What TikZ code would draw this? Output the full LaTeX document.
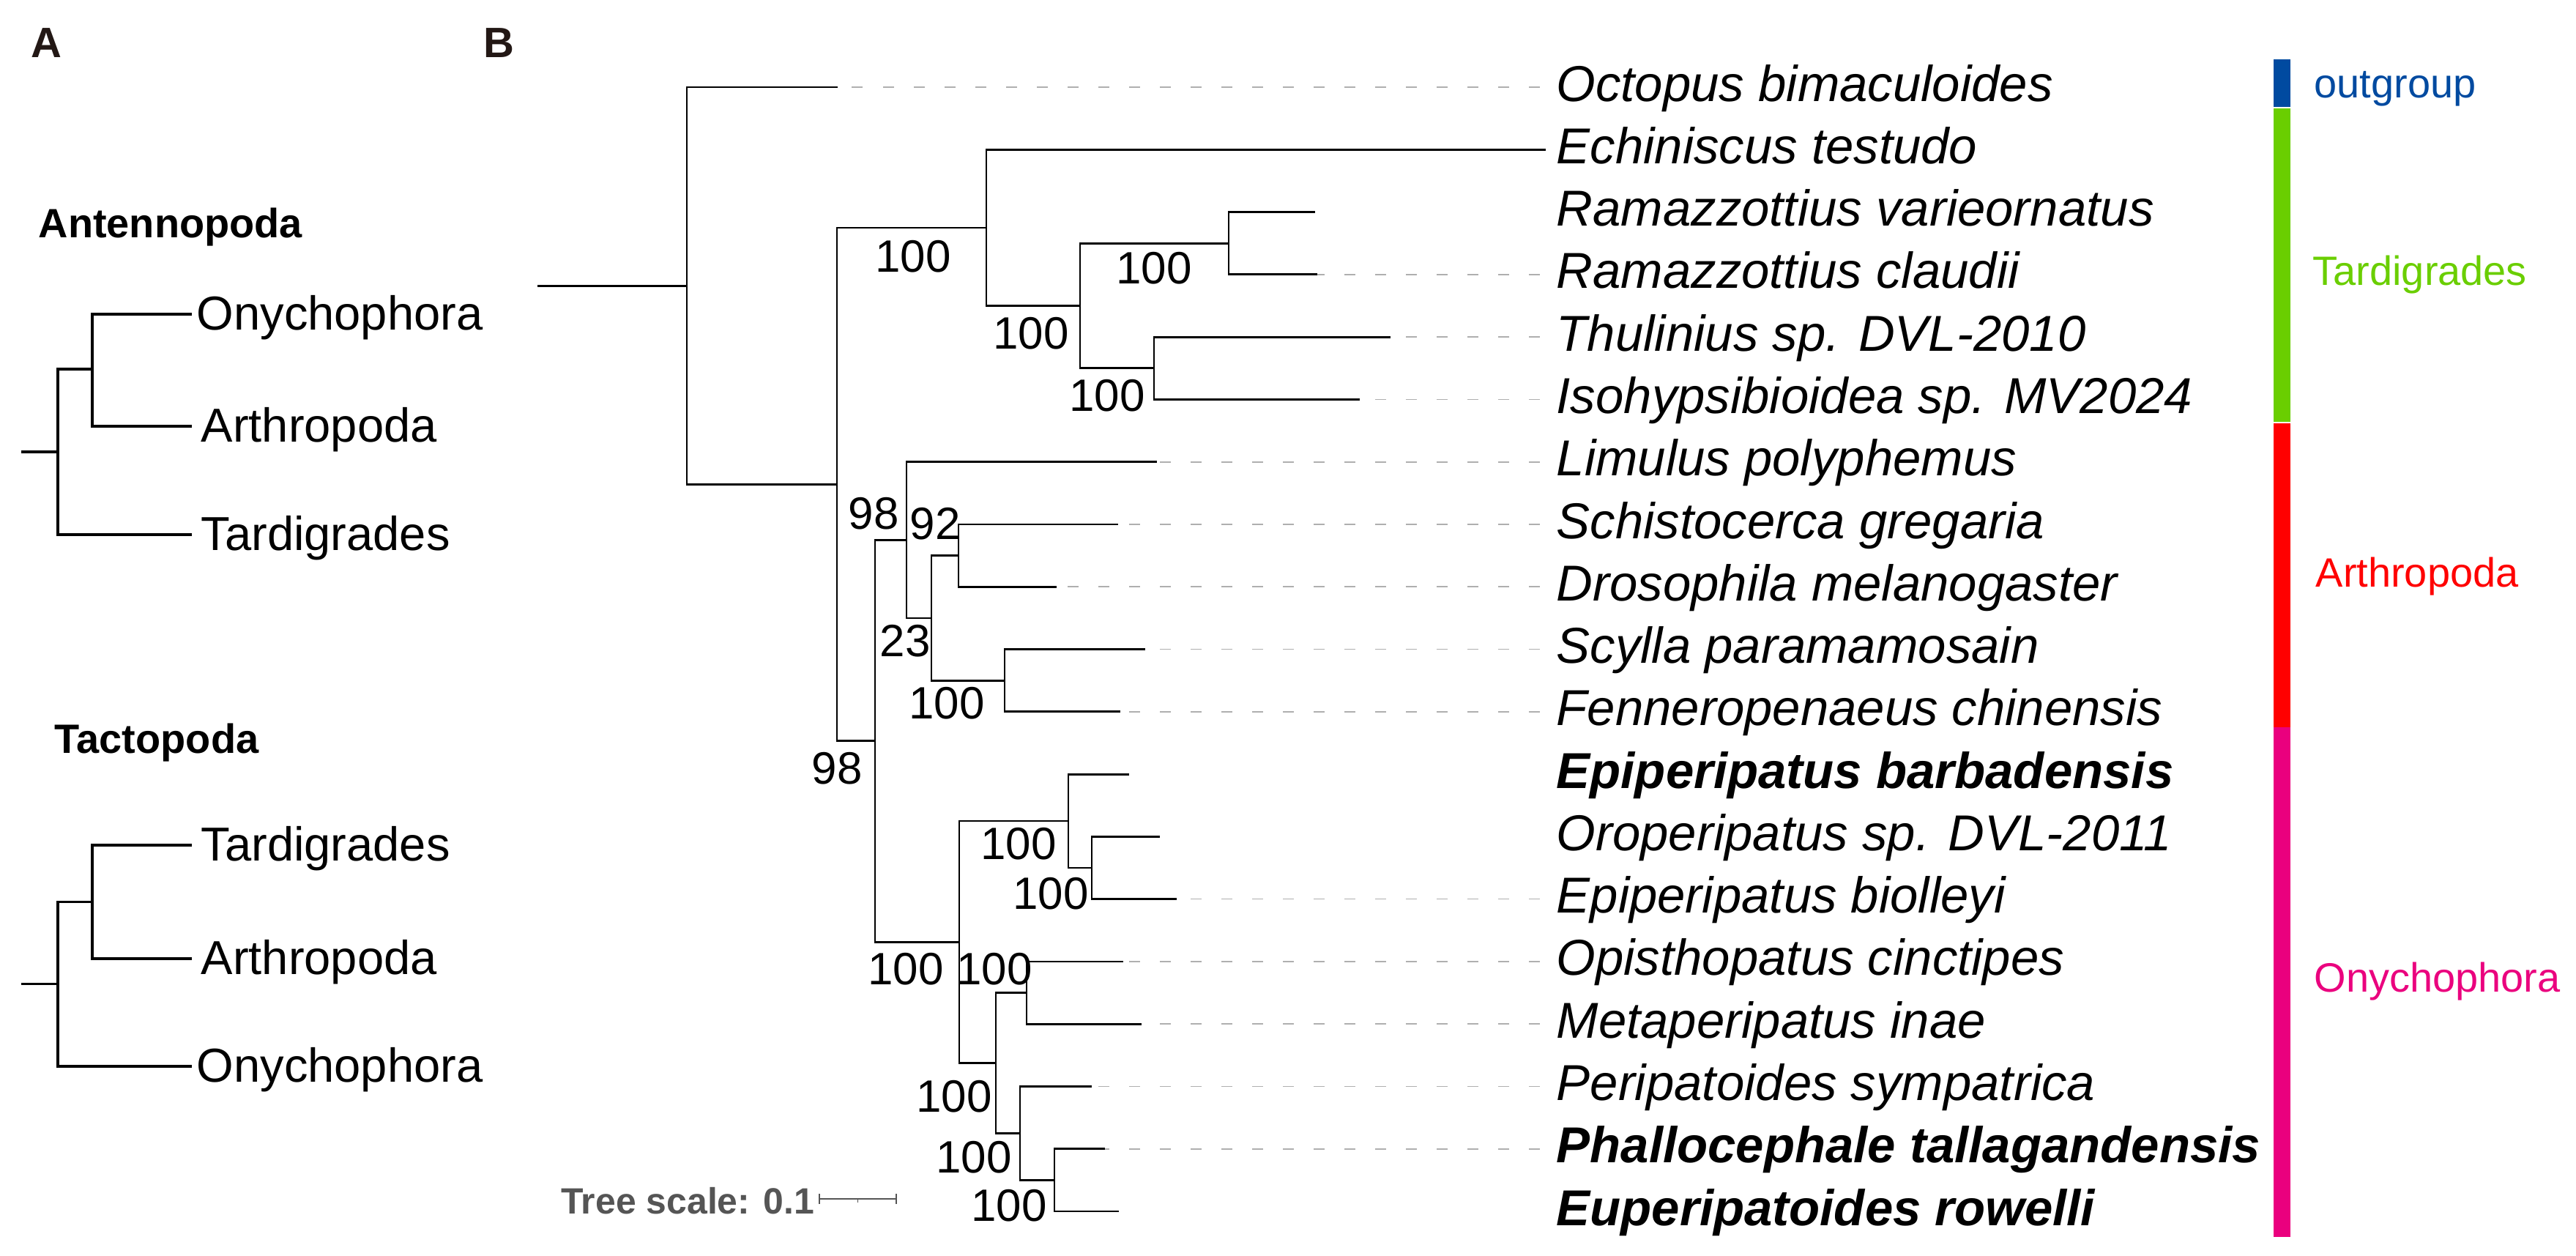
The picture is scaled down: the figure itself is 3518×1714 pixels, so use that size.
\documentclass[tikz,border=0pt]{standalone}
\usepackage{fontspec}
\setmainfont{Liberation Sans}
\definecolor{ogblue}{RGB}{0,74,160}
\definecolor{tgreen}{RGB}{106,206,0}
\definecolor{ared}{RGB}{255,0,0}
\definecolor{opink}{RGB}{234,0,126}
\definecolor{scalegray}{RGB}{85,85,85}
\definecolor{guidegray}{RGB}{175,175,175}
\definecolor{panelblack}{RGB}{35,24,21}
\begin{document}
\begin{tikzpicture}[x=0.01cm,y=-0.01cm,
 branch/.style={line width=0.8pt, line join=miter, line cap=rect},
 abranch/.style={line width=0.95pt, line join=miter, line cap=rect},
 guide/.style={guidegray, line width=0.45pt, dash pattern=on 0.15cm off 0.27cm},
 sp/.style={anchor=base west, inner sep=0pt, font=\fontsize{19.6}{23}\selectfont\itshape},
 spb/.style={anchor=base west, inner sep=0pt, font=\fontsize{19.6}{23}\selectfont\bfseries\itshape},
 boot/.style={inner sep=0pt, font=\fontsize{17.6}{20}\selectfont},
 ataxon/.style={anchor=base west, inner sep=0pt, font=\fontsize{18.5}{22}\selectfont},
 agroup/.style={anchor=base west, inner sep=0pt, font=\fontsize{15.9}{19}\selectfont\bfseries},
 panel/.style={anchor=base west, inner sep=0pt, text=panelblack, font=\fontsize{16.5}{20}\selectfont\bfseries},
 clade/.style={anchor=base west, inner sep=0pt, font=\fontsize{15.9}{19}\selectfont},
 scaletxt/.style={anchor=base east, inner sep=0pt, text=scalegray, font=\fontsize{14.2}{17}\selectfont\bfseries},
 scalebar/.style={draw=scalegray, line width=0.5pt}
]
\useasboundingbox (0,0) rectangle (3518,1714);

% ---------- Panel labels ----------
\node[panel] (pA) at (42,78) {A};
\node[panel] (pB) at (660,78) {B};

% ---------- Panel A, Antennopoda ----------
\node[agroup] (antenno) at (52,324) {Antennopoda};
\coordinate (a1r) at (31,617);
\coordinate (a1n) at (79,617);
\coordinate (a1i) at (126,504);
\coordinate (a1o) at (260,429);
\coordinate (a1a) at (260,582);
\coordinate (a1t) at (260,730);
\draw[abranch] (a1r) -- (a1n);
\draw[abranch] (a1n) |- (a1i);
\draw[abranch] (a1i) |- (a1o);
\draw[abranch] (a1i) |- (a1a);
\draw[abranch] (a1n) |- (a1t);
\node[ataxon] (a1oL) at (268,450) {Onychophora};
\node[ataxon] (a1aL) at (274,603) {Arthropoda};
\node[ataxon] (a1tL) at (274,751) {Tardigrades};

% ---------- Panel A, Tactopoda ----------
\node[agroup] (tacto) at (74,1028) {Tactopoda};
\coordinate (a2r) at (31,1343.5);
\coordinate (a2n) at (79,1343.5);
\coordinate (a2i) at (126,1231.5);
\coordinate (a2t) at (260,1154);
\coordinate (a2a) at (260,1309);
\coordinate (a2o) at (260,1456);
\draw[abranch] (a2r) -- (a2n);
\draw[abranch] (a2n) |- (a2i);
\draw[abranch] (a2i) |- (a2t);
\draw[abranch] (a2i) |- (a2a);
\draw[abranch] (a2n) |- (a2o);
\node[ataxon] (a2tL) at (274,1175) {Tardigrades};
\node[ataxon] (a2aL) at (274,1330) {Arthropoda};
\node[ataxon] (a2oL) at (268,1477) {Onychophora};

% ---------- Panel B, tree coordinates ----------
\coordinate (r0) at (735,390.2);
\coordinate (root) at (938,390.2);
\coordinate (oct) at (1143,119.0);
\coordinate (N1) at (1143,661.3);
\coordinate (T1) at (1347,310.9);
\coordinate (ech) at (2110,204.3);
\coordinate (T2) at (1475,417.5);
\coordinate (T3) at (1678,332.2);
\coordinate (rvar) at (1795,289.6);
\coordinate (rcla) at (1798,374.8);
\coordinate (T4) at (1576,502.8);
\coordinate (thu) at (1898,460.1);
\coordinate (iso) at (1856,545.4);
\coordinate (N2) at (1195,1011.8);
\coordinate (A1) at (1238,737.3);
\coordinate (lim) at (1579,630.7);
\coordinate (A2) at (1272,843.9);
\coordinate (A3) at (1309,758.6);
\coordinate (sch) at (1526,716.0);
\coordinate (dro) at (1442,801.2);
\coordinate (A4) at (1372,929.2);
\coordinate (scy) at (1563,886.5);
\coordinate (fen) at (1529,971.8);
\coordinate (O1) at (1310,1286.3);
\coordinate (O2) at (1459,1121.0);
\coordinate (ebar) at (1541,1057.1);
\coordinate (O3) at (1491,1185.0);
\coordinate (oro) at (1583,1142.4);
\coordinate (ebio) at (1606,1227.6);
\coordinate (O4) at (1360,1451.5);
\coordinate (O5) at (1402,1355.6);
\coordinate (opi) at (1533,1312.9);
\coordinate (met) at (1558,1398.2);
\coordinate (O6) at (1393,1547.5);
\coordinate (per) at (1490,1483.5);
\coordinate (O7) at (1440,1611.4);
\coordinate (pha) at (1508,1568.8);
\coordinate (eup) at (1527,1654.0);

% dashed guide lines (drawn from the common right end)
\foreach \c/\y in {oct/119.0, rcla/374.8, thu/460.1, iso/545.4, lim/630.7, sch/716.0,
  dro/801.2, scy/886.5, fen/971.8, ebio/1227.6, opi/1312.9, met/1398.2, per/1483.5, pha/1568.8}{
  \coordinate (g-\c) at (2103,\y);
  \draw[guide] (g-\c) -- (\c);
}

% branches
\draw[branch] (r0) -- (root);
\draw[branch] (root) |- (oct);
\draw[branch] (root) |- (N1);
\draw[branch] (N1) |- (T1);
\draw[branch] (T1) |- (ech);
\draw[branch] (T1) |- (T2);
\draw[branch] (T2) |- (T3);
\draw[branch] (T3) |- (rvar);
\draw[branch] (T3) |- (rcla);
\draw[branch] (T2) |- (T4);
\draw[branch] (T4) |- (thu);
\draw[branch] (T4) |- (iso);
\draw[branch] (N1) |- (N2);
\draw[branch] (N2) |- (A1);
\draw[branch] (A1) |- (lim);
\draw[branch] (A1) |- (A2);
\draw[branch] (A2) |- (A3);
\draw[branch] (A3) |- (sch);
\draw[branch] (A3) |- (dro);
\draw[branch] (A2) |- (A4);
\draw[branch] (A4) |- (scy);
\draw[branch] (A4) |- (fen);
\draw[branch] (N2) |- (O1);
\draw[branch] (O1) |- (O2);
\draw[branch] (O2) |- (ebar);
\draw[branch] (O2) |- (O3);
\draw[branch] (O3) |- (oro);
\draw[branch] (O3) |- (ebio);
\draw[branch] (O1) |- (O4);
\draw[branch] (O4) |- (O5);
\draw[branch] (O5) |- (opi);
\draw[branch] (O5) |- (met);
\draw[branch] (O4) |- (O6);
\draw[branch] (O6) |- (per);
\draw[branch] (O6) |- (O7);
\draw[branch] (O7) |- (pha);
\draw[branch] (O7) |- (eup);

% bootstrap values
\node[boot] (b1) at (1247,350) {100};
\node[boot] (b2) at (1408,455) {100};
\node[boot] (b3) at (1576,366) {100};
\node[boot] (b4) at (1512,540) {100};
\node[boot] (b5) at (1193,701) {98};
\node[boot] (b6) at (1277,715) {92};
\node[boot] (b7) at (1236,875) {23};
\node[boot] (b8) at (1293,960) {100};
\node[boot] (b9) at (1143,1049) {98};
\node[boot] (b10) at (1237,1323) {100};
\node[boot] (b11) at (1391,1152) {100};
\node[boot] (b12) at (1435,1220) {100};
\node[boot] (b13) at (1358,1323) {100};
\node[boot] (b14) at (1303,1497) {100};
\node[boot] (b15) at (1330,1580) {100};
\node[boot] (b16) at (1378,1646) {100};

% species labels
\node[sp] (l-oct) at (2125,138.0) {Octopus bimaculoides};
\node[sp] (l-ech) at (2125,223.3) {Echiniscus testudo};
\node[sp] (l-rvar) at (2125,308.6) {Ramazzottius varieornatus};
\node[sp] (l-rcla) at (2125,393.8) {Ramazzottius claudii};
\node[sp] (l-thu) at (2125,479.1) {Thulinius sp. DVL-2010};
\node[sp] (l-iso) at (2125,564.4) {Isohypsibioidea sp. MV2024};
\node[sp] (l-lim) at (2125,649.7) {Limulus polyphemus};
\node[sp] (l-sch) at (2125,735.0) {Schistocerca gregaria};
\node[sp] (l-dro) at (2125,820.2) {Drosophila melanogaster};
\node[sp] (l-scy) at (2125,905.5) {Scylla paramamosain};
\node[sp] (l-fen) at (2125,990.8) {Fenneropenaeus chinensis};
\node[spb] (l-ebar) at (2125,1076.1) {Epiperipatus barbadensis};
\node[sp] (l-oro) at (2125,1161.4) {Oroperipatus sp. DVL-2011};
\node[sp] (l-ebio) at (2125,1246.6) {Epiperipatus biolleyi};
\node[sp] (l-opi) at (2125,1331.9) {Opisthopatus cinctipes};
\node[sp] (l-met) at (2125,1417.2) {Metaperipatus inae};
\node[sp] (l-per) at (2125,1502.5) {Peripatoides sympatrica};
\node[spb] (l-pha) at (2125,1587.8) {Phallocephale tallagandensis};
\node[spb] (l-eup) at (2125,1673.0) {Euperipatoides rowelli};

% clade colour strip
\fill[ogblue] (3105,81) rectangle (3128,146);
\fill[tgreen] (3105,148) rectangle (3128,576);
\fill[ared] (3105,578) rectangle (3128,993);
\fill[opink] (3105,993) rectangle (3128,1689);
\node[clade, text=ogblue] (c-out) at (3160,133) {outgroup};
\node[clade, text=tgreen] (c-tar) at (3158,389) {Tardigrades};
\node[clade, text=ared] (c-art) at (3162,801) {Arthropoda};
\node[clade, text=opink] (c-ony) at (3160,1354) {Onychophora};

% tree scale
\node[scaletxt] (st) at (1113,1657) {Tree scale: 0.1};
\coordinate (sb1) at (1119,1637);
\coordinate (sb2) at (1224,1637);
\coordinate (sbm) at (1171.5,1637);
\coordinate (sb1u) at (1119,1630);
\coordinate (sb1d) at (1119,1644);
\coordinate (sb2u) at (1224,1630);
\coordinate (sb2d) at (1224,1644);
\coordinate (sbmd) at (1171.5,1642);
\draw[scalebar] (sb1) -- (sb2);
\draw[scalebar] (sb1u) -- (sb1d);
\draw[scalebar] (sb2u) -- (sb2d);
\draw[scalebar] (sbm) -- (sbmd);
\end{tikzpicture}
\end{document}
